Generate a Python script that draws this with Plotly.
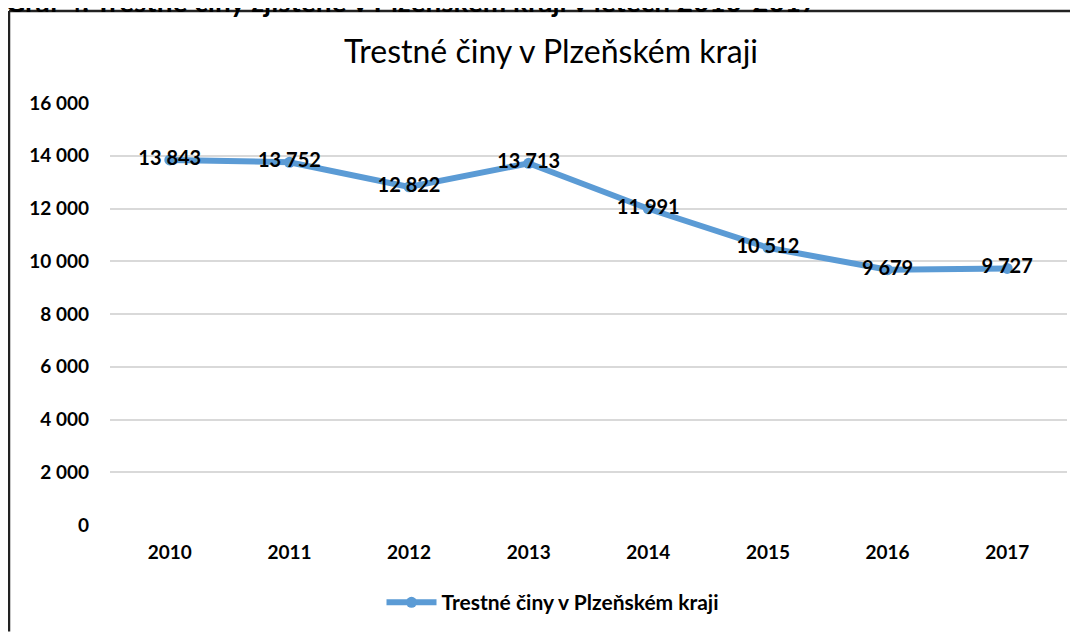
import plotly.graph_objects as go

years = ["2010", "2011", "2012", "2013", "2014", "2015", "2016", "2017"]
crimes = [13843, 13752, 12822, 13713, 11991, 10512, 9679, 9727]
series_name = "Trestné činy v Plzeňském kraji"
chart_title = "Trestné činy v Plzeňském kraji"
header_text = "Graf 4: Trestné činy zjištěné v Plzeňském kraji v letech 2010-2017"
y_ticks = [0, 2000, 4000, 6000, 8000, 10000, 12000, 14000, 16000]
y_tick_labels = ["0", "2 000", "4 000", "6 000", "8 000", "10 000", "12 000", "14 000", "16 000"]

def fmt(v):
    return f"{v:,}".replace(",", " ")

# page offset from the default body margin
O = 8
PW, PH = 1078, 634
W, H = PW - O, PH - O
# plot area in page pixels: x 110..1067, y 103..527
ml = 110 - O
mr = PW - 1067
mt = 103 - O
mb = PH - 527
pw, ph = W - ml - mr, H - mt - mb

def px_x(p):  # page pixel -> paper x
    return (p - O - ml) / pw

def px_y(p):  # page pixel -> paper y
    return (H - mb - (p - O)) / ph

BLUE = "#5B9BD5"
FONT = "Lato"

fig = go.Figure()
fig.add_trace(go.Scatter(
    x=years, y=crimes, name=series_name,
    mode="lines+markers+text",
    line=dict(color=BLUE, width=6),
    marker=dict(color=BLUE, size=11),
    text=[fmt(v) for v in crimes],
    textposition="middle center",
    textfont=dict(family=FONT, size=20, color="black", weight="bold"),
    cliponaxis=False,
))

fig.update_layout(
    width=W, height=H,
    margin=dict(l=ml, r=mr, t=mt, b=mb),
    paper_bgcolor="white", plot_bgcolor="white",
    title=dict(text=chart_title, x=(551 - O) / W, xanchor="center",
               y=1 - (52 - O) / H, yanchor="middle",
               yref="container", font=dict(family=FONT, size=32, color="black")),
    xaxis=dict(type="category", range=[-0.5, 7.5], showgrid=False, zeroline=False,
               showline=False, ticks="", ticklabelstandoff=14,
               tickfont=dict(family=FONT, size=19, color="black", weight="bold")),
    yaxis=dict(range=[0, 16000], tickvals=y_ticks, ticktext=y_tick_labels,
               showgrid=True, gridcolor="#D9D9D9", gridwidth=2, zeroline=False,
               showline=False, ticks="", ticklabelstandoff=20,
               tickfont=dict(family=FONT, size=19, color="black", weight="bold")),
    showlegend=True,
    legend=dict(orientation="h", x=px_x(553), xanchor="center", y=px_y(605), yanchor="middle",
                font=dict(family=FONT, size=21, color="black", weight="bold"),
                itemwidth=50),
)

# frame border (left and top edges visible)
fig.add_shape(type="line", xref="paper", yref="paper",
              x0=px_x(9), x1=px_x(PW), y0=px_y(10.5), y1=px_y(10.5),
              line=dict(color="#222222", width=2.5))
fig.add_shape(type="line", xref="paper", yref="paper",
              x0=px_x(9), x1=px_x(9), y0=px_y(10.5), y1=px_y(PH),
              line=dict(color="#222222", width=2.5))

# cut-off header caption above the frame
fig.add_annotation(text=header_text, xref="paper", yref="paper",
                   x=px_x(3), y=px_y(1), xanchor="left", yanchor="middle",
                   showarrow=False,
                   font=dict(family=FONT, size=28, color="black", weight="bold"))

fig.write_html("out.html")
